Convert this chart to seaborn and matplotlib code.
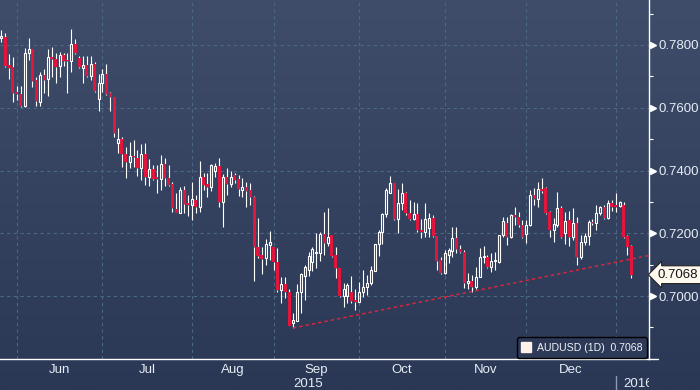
import numpy as np
import pandas as pd
import matplotlib
matplotlib.use("Agg")
import matplotlib.pyplot as plt
import seaborn as sns
from matplotlib.transforms import blended_transform_factory, Bbox, TransformedBbox
from matplotlib.lines import Line2D

# ---------------- data (AUDUSD daily) ----------------
open_ = [0.7823, 0.7826, 0.7736, 0.7730, 0.7650, 0.7644, 0.7606, 0.7775, 0.7787, 0.7688,
         0.7618, 0.7704, 0.7692, 0.7762, 0.7755, 0.7733, 0.7768, 0.7752, 0.7749, 0.7803,
         0.7759, 0.7727, 0.7736, 0.7701, 0.7739, 0.7628, 0.7679, 0.7708, 0.7647, 0.7634,
         0.7487, 0.7500, 0.7453, 0.7427, 0.7446, 0.7440, 0.7408, 0.7453, 0.7379, 0.7405,
         0.7379, 0.7373, 0.7421, 0.7376, 0.7357, 0.7277, 0.7265, 0.7338, 0.7297, 0.7290,
         0.7306, 0.7284, 0.7379, 0.7357, 0.7347, 0.7399, 0.7415, 0.7300, 0.7379, 0.7357,
         0.7386, 0.7373, 0.7338, 0.7347, 0.7338, 0.7316, 0.7156, 0.7131, 0.7121, 0.7163,
         0.7156, 0.7108, 0.7019, 0.7038, 0.7013, 0.6914, 0.6920, 0.7013, 0.7064, 0.7083,
         0.7108, 0.7137, 0.7137, 0.7198, 0.7169, 0.7195, 0.7131, 0.7089, 0.7000, 0.7000,
         0.7013, 0.6987, 0.6981, 0.7013, 0.7029, 0.7042, 0.7080, 0.7166, 0.7204, 0.7261,
         0.7328, 0.7360, 0.7245, 0.7297, 0.7328, 0.7265, 0.7245, 0.7261, 0.7210, 0.7204,
         0.7217, 0.7249, 0.7191, 0.7115, 0.7073, 0.7131, 0.7143, 0.7185, 0.7150, 0.7140,
         0.7042, 0.7048, 0.7029, 0.7061, 0.7124, 0.7124, 0.7092, 0.7111, 0.7108, 0.7195,
         0.7233, 0.7188, 0.7258, 0.7252, 0.7226, 0.7198, 0.7226, 0.7322, 0.7309, 0.7341,
         0.7344, 0.7268, 0.7210, 0.7226, 0.7281, 0.7201, 0.7242, 0.7188, 0.7233, 0.7124,
         0.7172, 0.7191, 0.7236, 0.7233, 0.7265, 0.7284, 0.7249, 0.7297, 0.7290, 0.7287,
         0.7290, 0.7191, 0.7159]
high_ = [0.7848, 0.7838, 0.7771, 0.7762, 0.7669, 0.7669, 0.7790, 0.7822, 0.7787, 0.7698,
         0.7714, 0.7724, 0.7787, 0.7794, 0.7775, 0.7778, 0.7775, 0.7775, 0.7851, 0.7819,
         0.7765, 0.7765, 0.7765, 0.7765, 0.7746, 0.7708, 0.7724, 0.7739, 0.7650, 0.7634,
         0.7535, 0.7506, 0.7475, 0.7491, 0.7497, 0.7465, 0.7484, 0.7487, 0.7437, 0.7418,
         0.7418, 0.7449, 0.7440, 0.7418, 0.7363, 0.7328, 0.7347, 0.7351, 0.7322, 0.7363,
         0.7322, 0.7430, 0.7392, 0.7392, 0.7421, 0.7424, 0.7440, 0.7389, 0.7408, 0.7399,
         0.7392, 0.7386, 0.7376, 0.7363, 0.7360, 0.7319, 0.7249, 0.7156, 0.7182, 0.7207,
         0.7156, 0.7153, 0.7061, 0.7061, 0.7022, 0.6946, 0.7038, 0.7073, 0.7099, 0.7140,
         0.7156, 0.7201, 0.7204, 0.7268, 0.7281, 0.7195, 0.7156, 0.7089, 0.7042, 0.7042,
         0.7064, 0.7022, 0.7045, 0.7083, 0.7067, 0.7096, 0.7166, 0.7210, 0.7265, 0.7344,
         0.7383, 0.7360, 0.7341, 0.7360, 0.7331, 0.7306, 0.7300, 0.7297, 0.7245, 0.7297,
         0.7265, 0.7258, 0.7191, 0.7124, 0.7147, 0.7153, 0.7220, 0.7220, 0.7163, 0.7147,
         0.7073, 0.7067, 0.7092, 0.7153, 0.7159, 0.7131, 0.7137, 0.7140, 0.7195, 0.7252,
         0.7252, 0.7261, 0.7284, 0.7268, 0.7242, 0.7242, 0.7338, 0.7344, 0.7363, 0.7376,
         0.7347, 0.7271, 0.7249, 0.7331, 0.7287, 0.7268, 0.7271, 0.7281, 0.7252, 0.7195,
         0.7201, 0.7242, 0.7245, 0.7290, 0.7287, 0.7290, 0.7306, 0.7306, 0.7328, 0.7303,
         0.7300, 0.7195, 0.7163]
low_ = [0.7810, 0.7730, 0.7692, 0.7618, 0.7625, 0.7602, 0.7602, 0.7752, 0.7666, 0.7606,
        0.7606, 0.7647, 0.7637, 0.7698, 0.7679, 0.7698, 0.7733, 0.7647, 0.7714, 0.7771,
        0.7727, 0.7679, 0.7698, 0.7688, 0.7650, 0.7590, 0.7650, 0.7641, 0.7590, 0.7506,
        0.7456, 0.7411, 0.7376, 0.7408, 0.7411, 0.7383, 0.7370, 0.7354, 0.7351, 0.7370,
        0.7328, 0.7338, 0.7351, 0.7351, 0.7268, 0.7265, 0.7265, 0.7265, 0.7255, 0.7242,
        0.7265, 0.7268, 0.7338, 0.7316, 0.7335, 0.7379, 0.7284, 0.7220, 0.7322, 0.7347,
        0.7360, 0.7319, 0.7316, 0.7284, 0.7290, 0.7048, 0.7121, 0.7070, 0.7099, 0.7115,
        0.7083, 0.7013, 0.6978, 0.6994, 0.6905, 0.6898, 0.6920, 0.6946, 0.6987, 0.7064,
        0.7080, 0.7089, 0.7111, 0.7131, 0.7159, 0.7124, 0.7058, 0.6997, 0.6965, 0.6978,
        0.6978, 0.6956, 0.6981, 0.6997, 0.7003, 0.7035, 0.7080, 0.7127, 0.7166, 0.7252,
        0.7328, 0.7242, 0.7201, 0.7274, 0.7258, 0.7242, 0.7242, 0.7204, 0.7185, 0.7188,
        0.7188, 0.7188, 0.7083, 0.7070, 0.7070, 0.7105, 0.7124, 0.7137, 0.7137, 0.7026,
        0.7022, 0.7013, 0.7022, 0.7061, 0.7105, 0.7089, 0.7077, 0.7083, 0.7105, 0.7188,
        0.7163, 0.7185, 0.7226, 0.7220, 0.7185, 0.7169, 0.7223, 0.7290, 0.7284, 0.7328,
        0.7261, 0.7188, 0.7172, 0.7220, 0.7185, 0.7166, 0.7159, 0.7179, 0.7099, 0.7118,
        0.7163, 0.7163, 0.7226, 0.7210, 0.7258, 0.7245, 0.7245, 0.7271, 0.7268, 0.7284,
        0.7185, 0.7131, 0.7058]
close_ = [0.7829, 0.7733, 0.7727, 0.7647, 0.7644, 0.7606, 0.7775, 0.7787, 0.7685, 0.7622,
          0.7704, 0.7688, 0.7762, 0.7755, 0.7730, 0.7768, 0.7749, 0.7749, 0.7803, 0.7775,
          0.7730, 0.7736, 0.7701, 0.7739, 0.7653, 0.7679, 0.7708, 0.7644, 0.7634, 0.7519,
          0.7500, 0.7453, 0.7427, 0.7446, 0.7443, 0.7408, 0.7453, 0.7379, 0.7405, 0.7373,
          0.7373, 0.7421, 0.7376, 0.7354, 0.7281, 0.7265, 0.7338, 0.7293, 0.7290, 0.7309,
          0.7284, 0.7379, 0.7354, 0.7347, 0.7418, 0.7415, 0.7300, 0.7379, 0.7357, 0.7379,
          0.7370, 0.7341, 0.7347, 0.7335, 0.7316, 0.7156, 0.7127, 0.7118, 0.7166, 0.7172,
          0.7108, 0.7019, 0.7038, 0.7013, 0.6905, 0.6924, 0.7013, 0.7070, 0.7092, 0.7127,
          0.7150, 0.7140, 0.7198, 0.7169, 0.7188, 0.7127, 0.7089, 0.7000, 0.7022, 0.7035,
          0.6984, 0.6981, 0.7013, 0.7029, 0.7042, 0.7083, 0.7166, 0.7204, 0.7261, 0.7338,
          0.7360, 0.7245, 0.7297, 0.7328, 0.7265, 0.7245, 0.7261, 0.7210, 0.7204, 0.7245,
          0.7249, 0.7191, 0.7111, 0.7073, 0.7137, 0.7147, 0.7185, 0.7150, 0.7140, 0.7042,
          0.7048, 0.7029, 0.7061, 0.7124, 0.7127, 0.7092, 0.7111, 0.7115, 0.7195, 0.7239,
          0.7188, 0.7258, 0.7252, 0.7226, 0.7188, 0.7226, 0.7322, 0.7309, 0.7341, 0.7335,
          0.7265, 0.7210, 0.7229, 0.7281, 0.7188, 0.7239, 0.7188, 0.7233, 0.7124, 0.7172,
          0.7191, 0.7236, 0.7233, 0.7265, 0.7284, 0.7249, 0.7297, 0.7284, 0.7284, 0.7300,
          0.7188, 0.7156, 0.7068]
first_date = "2015-05-26"
y_major = [0.70, 0.72, 0.74, 0.76, 0.78]
y_minor = [0.69, 0.71, 0.73, 0.75, 0.77, 0.79]
last_price = 0.7068
series_label = "AUDUSD (1D)  0.7068"
trend_start_date = "2015-09-08"
trend_prices = [0.6898, 0.7129]

# ---------------- style ----------------
sns.set_theme(style="dark")
plt.rcParams["font.family"] = ["Liberation Sans", "DejaVu Sans"]

W, H = 700, 390
TXT = "#e6edf5"
RED = "#e2153d"
GRID = "#4b6984"

fig = plt.figure(figsize=(W / 100, H / 100), dpi=100)

# background gradient
bg = fig.add_axes([0, 0, 1, 1])
bg.set_axis_off()
bg.set_zorder(-10)
top = np.array([63, 77, 106]) / 255
bot = np.array([42, 55, 85]) / 255
t = np.linspace(0, 1, 256)[:, None]
grad = top * (1 - t) + bot * t
bg.imshow(grad[:, None, :], aspect="auto", extent=[0, 1, 0, 1])

ax = fig.add_axes([0, 31 / H, 648.5 / W, 359 / H])
ax.set_facecolor("none")
ax.patch.set_alpha(0)

df = pd.DataFrame({"date": pd.bdate_range(first_date, periods=len(close_)),
                   "open": open_, "high": high_, "low": low_, "close": close_})
df["x"] = np.arange(len(df))
o = df["open"].to_numpy(); c = df["close"].to_numpy()
h = df["high"].to_numpy(); l = df["low"].to_numpy(); x = df["x"].to_numpy()
up = c >= o
dn = ~up

# wicks
ax.vlines(x, np.maximum(o, c), h, color="white", lw=0.8, zorder=2)
ax.vlines(x, l, np.minimum(o, c), color="white", lw=0.8, zorder=2)
minb = 0.00025
# down bodies
bh = np.maximum(o - c, minb)
ax.bar(x[dn], bh[dn], bottom=(np.minimum(o, c) - (bh - np.abs(o - c)) / 2)[dn],
       width=0.78, color=RED, linewidth=0, zorder=3)
# up bodies (hollow)
uh = np.maximum(c - o, minb)
ax.bar(x[up], uh[up], bottom=(np.minimum(o, c) - (uh - np.abs(o - c)) / 2)[up],
       width=0.52, facecolor="none", edgecolor="white", linewidth=0.8, zorder=3)

xmin, xmax = -0.334, 166.4
ax.set_xlim(xmin, xmax)
ax.set_ylim(0.67993, 0.79434)

# trend line (seaborn)
ts = int(df.index[df["date"] == pd.Timestamp(trend_start_date)][0])
trend = pd.DataFrame({"x": [ts, xmax], "y": trend_prices})
sns.lineplot(data=trend, x="x", y="y", ax=ax, color="#d8263d", lw=1.1,
             linestyle=(0, (2.2, 2.0)), zorder=4)
ax.set_xlabel(""); ax.set_ylabel("")
ax.set_xlim(xmin, xmax)

# month ticks (first trading day of each new month)
month_idx = df.groupby(df["date"].dt.to_period("M"))["x"].min().to_numpy()
month_idx = month_idx[month_idx > 0]
ax.set_xticks(month_idx)
ax.set_xticklabels([])
ax.tick_params(axis="x", length=3.5, width=0.8, color="white", direction="out")

# y axis on right
ax.yaxis.tick_right()
ax.set_yticks(y_major)
ax.set_yticklabels([f"{v:.4f}" for v in y_major])
ax.set_yticks(y_minor, minor=True)
ax.tick_params(axis="y", which="major", length=0, pad=7, labelsize=9.5, labelcolor=TXT)
ax.tick_params(axis="y", which="minor", length=3, width=0.8, color="white", direction="out")

ax.grid(True, which="major", color=GRID, lw=0.8, ls=(0, (3, 3)))
ax.set_axisbelow(True)

for s in ["top", "left"]:
    ax.spines[s].set_visible(False)
for s in ["right", "bottom"]:
    ax.spines[s].set_visible(True)
    ax.spines[s].set_color("white")
    ax.spines[s].set_linewidth(1.0)

# pointer triangles at major ticks
tr_fy = blended_transform_factory(fig.transFigure, ax.transData)
ax.plot([652.5 / W] * len(y_major), y_major, transform=tr_fy, ls="none", marker=">",
        ms=5, color="white", clip_on=False, zorder=5)
fig.add_artist(Line2D([648.5 / W, 658 / W], [31 / H, 31 / H], color="white", lw=1.0))

# last price label
ax.text(658 / W, last_price, f"{last_price:.4f}", transform=tr_fy, ha="left", va="center",
        fontsize=9.5, color="#151515", clip_on=False, zorder=10,
        bbox=dict(boxstyle="larrow,pad=0.22", fc="#fff8ef", ec="#222222", lw=0.8))

# month / year labels
tr_xf = blended_transform_factory(ax.transData, fig.transFigure)
names = df["date"].iloc[month_idx].dt.strftime("%b").tolist()
for i in range(len(month_idx) - 1):
    mid = (month_idx[i] + month_idx[i + 1]) / 2
    ax.text(mid, 1 - 370 / H, names[i], transform=tr_xf, ha="center", va="center",
            fontsize=9.5, color=TXT, clip_on=False)
jan = month_idx[-1]
ax.text((xmin + jan) / 2, 1 - 384 / H, str(df["date"].iloc[0].year), transform=tr_xf,
        ha="center", va="center", fontsize=9.5, color=TXT, clip_on=False)
t16 = ax.text(jan + 1.9, 1 - 384 / H, str(df["date"].iloc[-1].year), transform=tr_xf,
              ha="left", va="center", fontsize=9.5, color=TXT)
t16.set_clip_on(True)
t16.set_clip_box(TransformedBbox(Bbox([[0, 0], [649 / W, 1]]), fig.transFigure))
ax.plot([jan, jan], [0, 14 / H], transform=tr_xf, color="#8e9ab0", lw=1.0, clip_on=False)

# legend
handle = Line2D([], [], marker="s", color="#fff1ea", ls="none", ms=7)
leg = ax.legend([handle], [series_label], loc="lower right", bbox_to_anchor=(1.0, 0.0),
                borderaxespad=0.1, frameon=True, fancybox=True, facecolor="#2c3957",
                edgecolor="black", framealpha=1, handlelength=0.8, handletextpad=0.6,
                borderpad=0.5, prop={"size": 7.6})
leg.get_frame().set_linewidth(1.0)
for txt in leg.get_texts():
    txt.set_color("#f2f4f8")

fig.savefig("out.png", dpi=100)
